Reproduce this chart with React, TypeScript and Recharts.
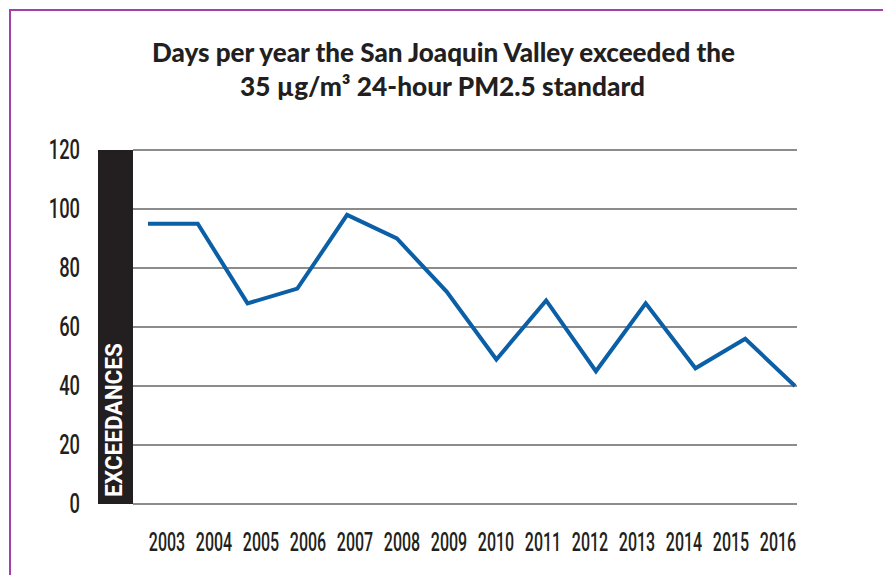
import React from 'react';
import { LineChart, Line, XAxis, YAxis, CartesianGrid } from 'recharts';

const years = ['2003', '2004', '2005', '2006', '2007', '2008', '2009', '2010', '2011', '2012', '2013', '2014', '2015', '2016'];
const exceedances = [95, 95, 68, 73, 98, 90, 72, 49, 69, 45, 68, 46, 56, 40];
const yTicks = [0, 20, 40, 60, 80, 100, 120];

const titleLines = ['Days per year the San Joaquin Valley exceeded the', '35 µg/m³ 24-hour PM2.5 standard'];
const yLabel = 'EXCEEDANCES';

const data = years.map((year, i) => ({ year, value: exceedances[i] }));

const INK = '#231f20';

const YTick = (props: any) => {
  const { x, y, payload } = props;
  return (
    <g transform={`translate(${x},${y}) scale(0.68,1)`}>
      <text x={0} y={0} textAnchor="end" dominantBaseline="central" fill={INK}
        style={{ fontFamily: 'Roboto', fontSize: 27, fontWeight: 500 }}>
        {payload.value}
      </text>
    </g>
  );
};

const XTick = (props: any) => {
  const { x, y, payload } = props;
  return (
    <g transform={`translate(${x},${y}) scale(0.64,1)`}>
      <text x={0} y={0} textAnchor="middle" dominantBaseline="central" fill={INK}
        style={{ fontFamily: 'Roboto', fontSize: 25, fontWeight: 500 }}>
        {payload.value}
      </text>
    </g>
  );
};

// black band with the rotated axis title, placed against the plot's left edge
const YBand = (props: any) => {
  const vb = props.viewBox || {};
  const bandW = 35;
  const bx = vb.x + vb.width - bandW;
  const cx = bx + bandW / 2;
  return (
    <g>
      <rect x={bx} y={vb.y} width={bandW} height={vb.height} fill={INK} />
      <text
        x={0}
        y={0}
        transform={`translate(${cx + 6},${vb.y + vb.height - 84}) rotate(-90)`}
        textAnchor="middle"
        fill="#ffffff"
        textLength={154}
        lengthAdjust="spacingAndGlyphs"
        style={{ fontFamily: 'Roboto', fontSize: 24, fontWeight: 700 }}
      >
        {yLabel}
      </text>
    </g>
  );
};

export default function App() {
  return (
    <div style={{ position: 'absolute', left: 0, top: 0, width: 883, height: 575, background: '#ffffff', overflow: 'hidden' }}>
      <div style={{ position: 'absolute', left: 9, top: 9, right: 0, bottom: 0, borderLeft: '2px solid #a540a8', borderTop: '2px solid #a540a8' }} />
      <div style={{ position: 'absolute', left: 0, top: 0 }}>
        <LineChart width={883} height={575} data={data} margin={{ top: 150, right: 86, left: 0, bottom: 0 }}>
          <CartesianGrid vertical={false} stroke="#8c8c8c" strokeWidth={2} />
          <XAxis dataKey="year" xAxisId="pts" hide height={0} padding={{ left: 15, right: 2 }} />
          <XAxis dataKey="year" xAxisId="labels" height={71} axisLine={false} tickLine={false}
            tickSize={0} tickMargin={39} interval={0} padding={{ left: 34, right: 19 }} tick={<XTick />} />
          <YAxis width={133} domain={[0, 120]} ticks={yTicks} axisLine={false} tickLine={false}
            tickSize={0} tickMargin={53} interval={0} tick={<YTick />} label={<YBand />} />
          <Line xAxisId="pts" type="linear" dataKey="value" stroke="#0a5fa6" strokeWidth={4}
            dot={false} activeDot={false} isAnimationActive={false} />
        </LineChart>
      </div>
      <svg width={883} height={575} style={{ position: 'absolute', left: 0, top: 0, pointerEvents: 'none' }}>
        <text x={443.5} y={62} textAnchor="middle" fill={INK} textLength={583} lengthAdjust="spacingAndGlyphs"
          style={{ fontFamily: 'Lato', fontSize: 26, fontWeight: 900 }}>
          {titleLines[0]}
        </text>
        <text x={442.5} y={96} textAnchor="middle" fill={INK} textLength={405} lengthAdjust="spacingAndGlyphs"
          style={{ fontFamily: 'Lato', fontSize: 26, fontWeight: 900 }}>
          {titleLines[1]}
        </text>
      </svg>
    </div>
  );
}
